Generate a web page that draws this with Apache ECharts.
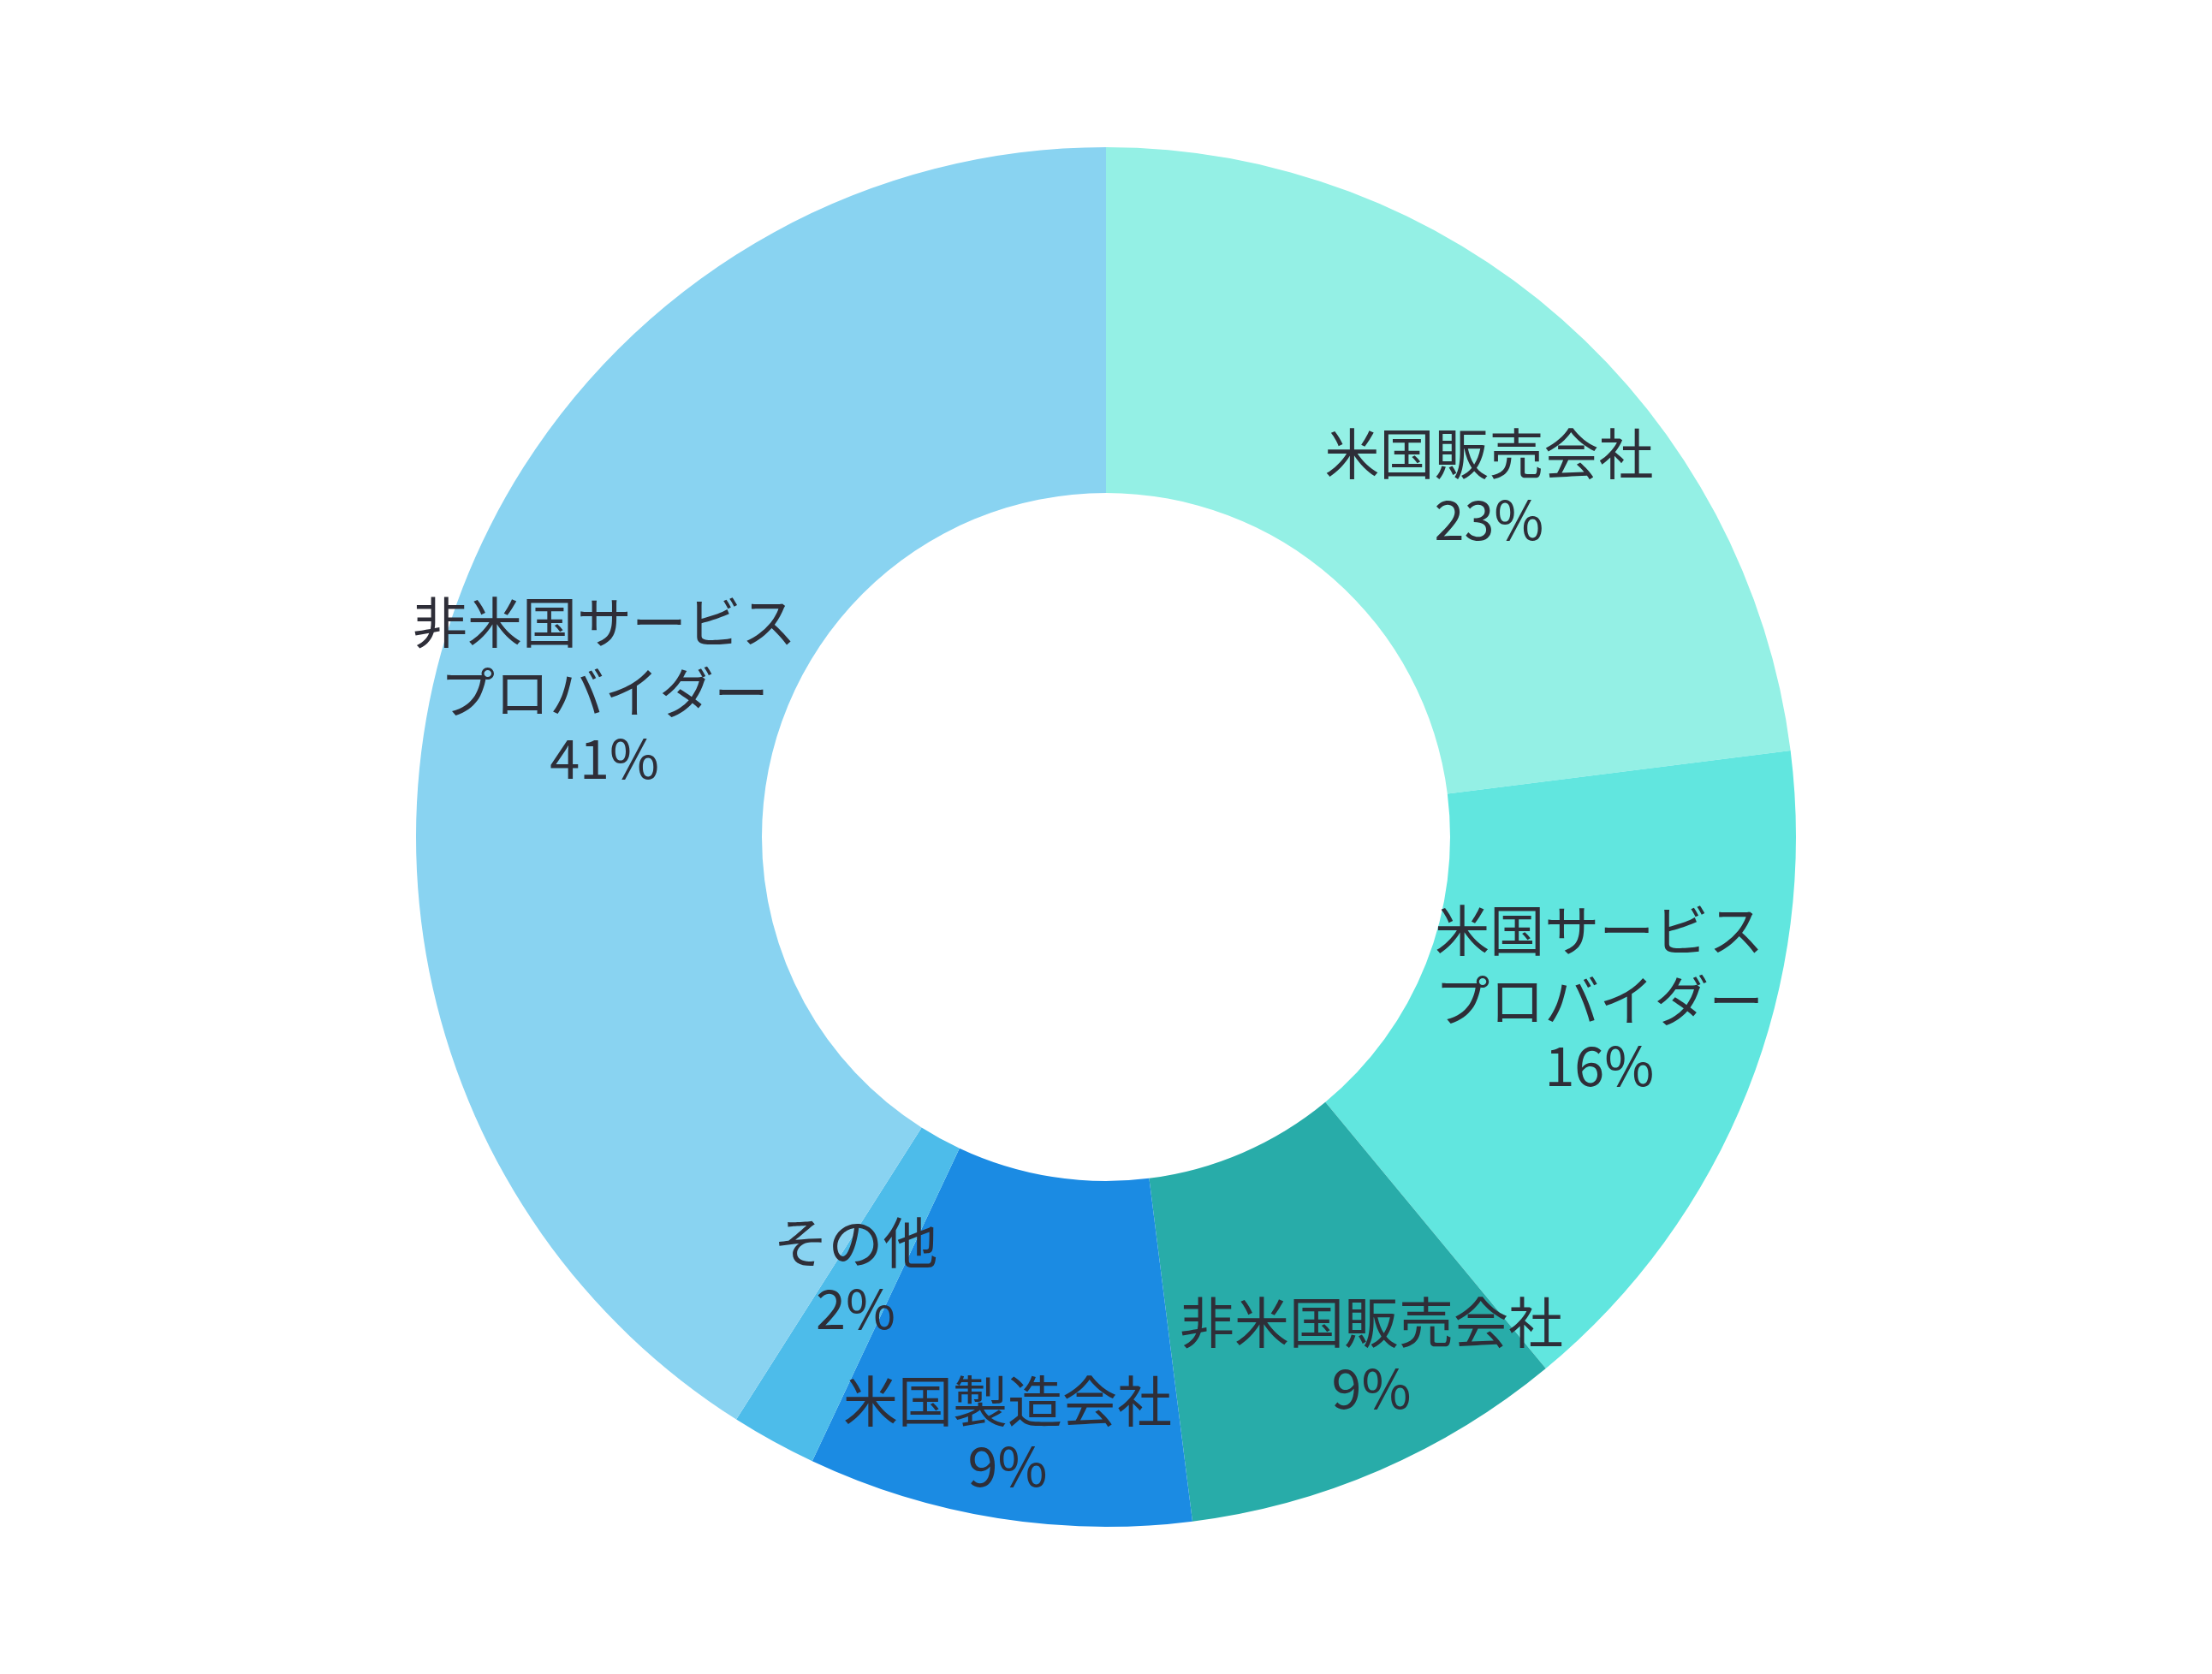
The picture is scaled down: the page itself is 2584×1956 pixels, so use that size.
<!DOCTYPE html>
<html>
<head>
<meta charset="utf-8">
<script src="https://cdn.jsdelivr.net/npm/echarts@6/dist/echarts.min.js"></script>
<style>
  html, body { margin: 0; padding: 0; background: #ffffff; }
  #chart { width: 2584px; height: 1956px; }
</style>
</head>
<body>
<div id="chart"></div>
<script>
// 区分ごとの構成比 (%)
var categories = [
    "米国販売会社",
    "米国サービス\nプロバイダー",
    "非米国販売会社",
    "米国製造会社",
    "その他",
    "非米国サービス\nプロバイダー"
];
var shares = [23, 16, 9, 9, 2, 41];
var sliceColors = ["#94f0e5", "#61e6df", "#28aca9", "#1b8be3", "#4dbcea", "#89d3f1"];

// ラベル位置の微調整 (px)
var labelShift = [[46, 43], [12, -38], [69, 46], [-20, 95], [0, -22], [-3, -5]];

var chart = echarts.init(document.getElementById("chart"));

var pieData = [];
for (var i = 0; i < categories.length; i++) {
    pieData.push({
        name: categories[i],
        value: shares[i],
        itemStyle: { color: sliceColors[i] },
        label: { offset: labelShift[i] }
    });
}

chart.setOption({
    backgroundColor: "#ffffff",
    animation: false,
    series: [{
        type: "pie",
        center: ["50%", "50%"],
        radius: [402, 806],
        startAngle: 90,
        clockwise: true,
        avoidLabelOverlap: false,
        minShowLabelAngle: 0,
        labelLayout: { hideOverlap: false },
        itemStyle: { borderWidth: 0 },
        label: {
            show: true,
            position: "inside",
            overflow: "none",
            formatter: function (p) {
                return "{n|" + p.name.split("\n").join("}\n{n|") + "}\n{p|" + p.value + "%}";
            },
            rich: {
                n: {
                    fontFamily: "'Noto Sans CJK JP', sans-serif",
                    fontSize: 64,
                    lineHeight: 82,
                    color: "#2e2e38"
                },
                p: {
                    fontFamily: "'Noto Sans CJK JP', sans-serif",
                    fontSize: 63,
                    lineHeight: 72,
                    color: "#2e2e38"
                }
            }
        },
        labelLine: { show: false },
        data: pieData
    }]
});
</script>
</body>
</html>
